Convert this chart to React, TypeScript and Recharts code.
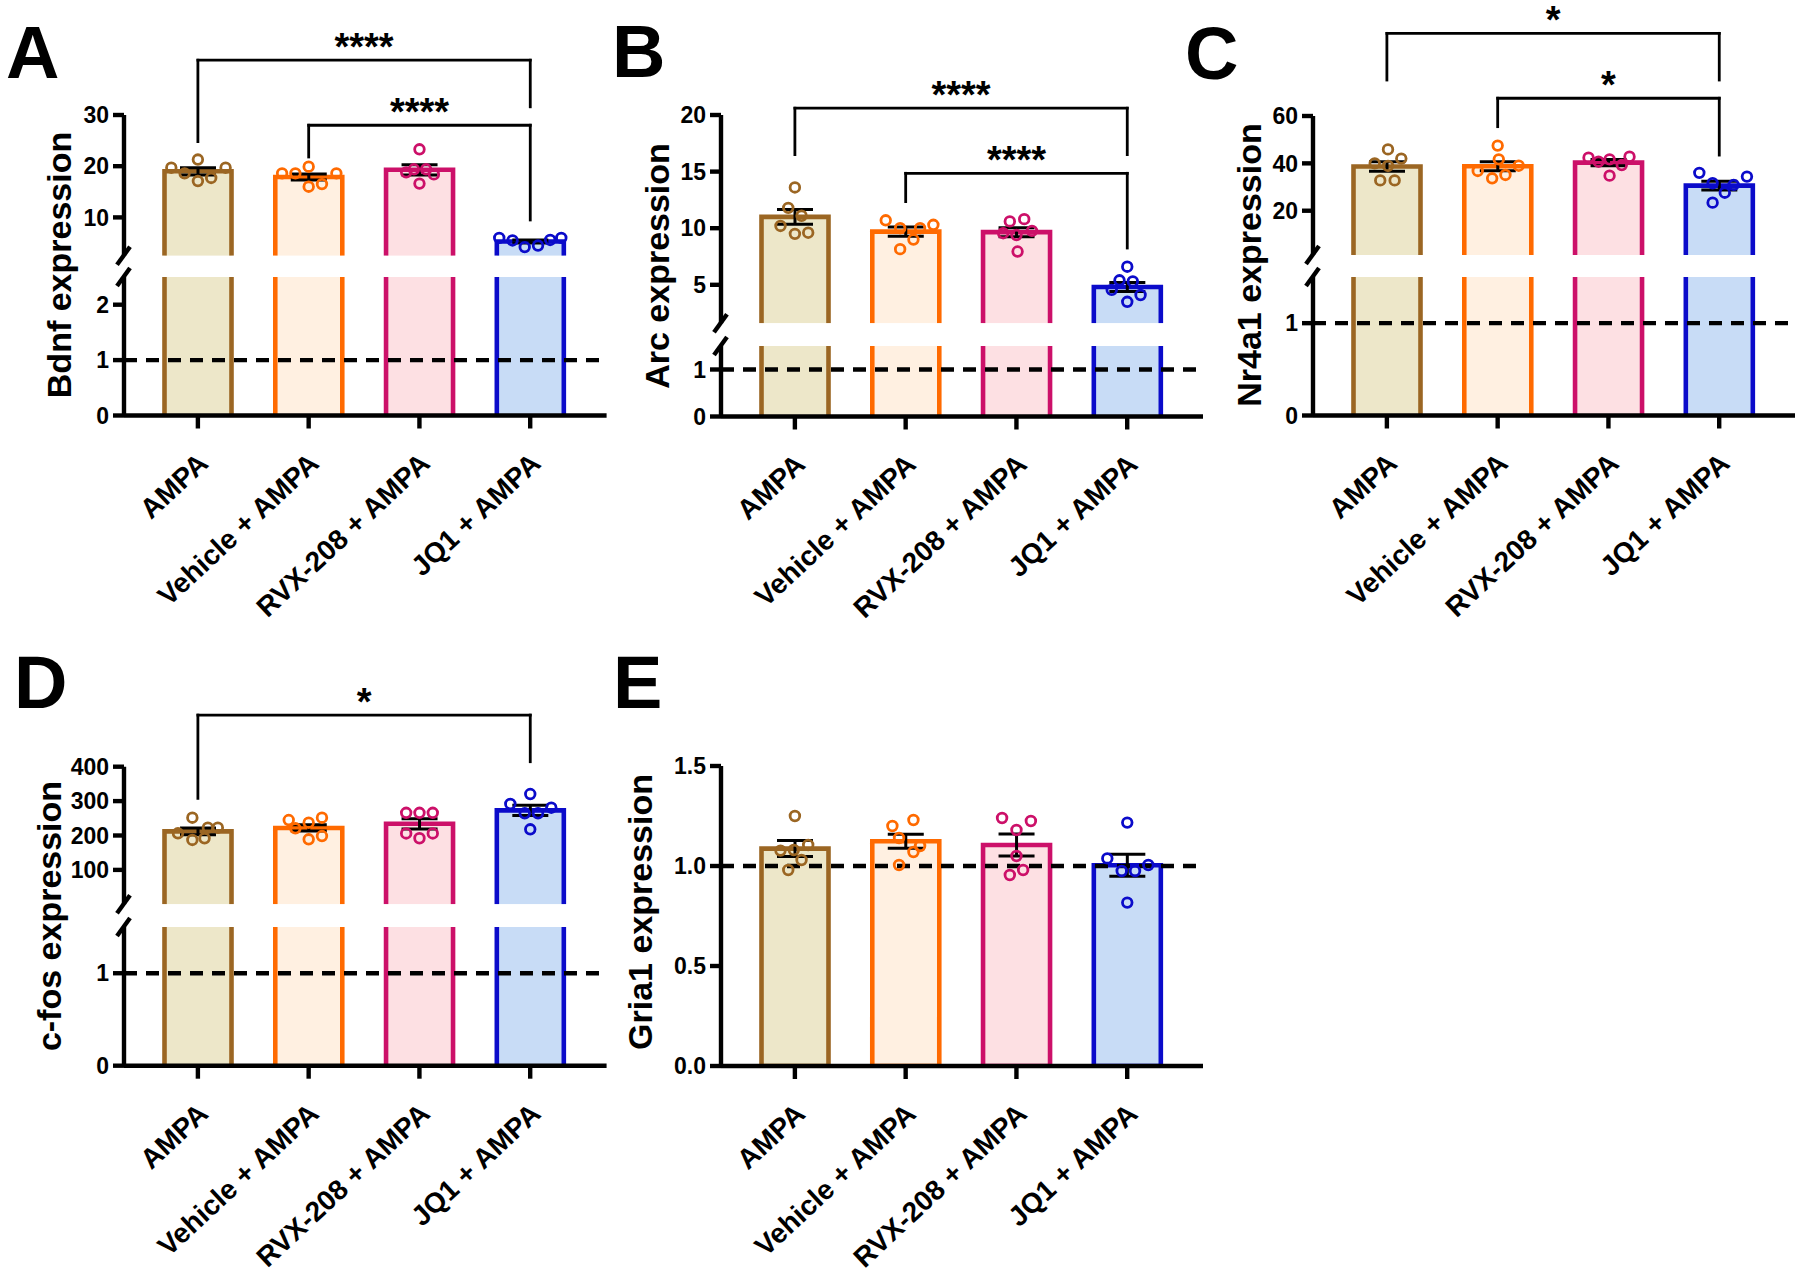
import React from 'react';
import { ComposedChart, Bar, Scatter, XAxis, YAxis, ErrorBar, ReferenceLine, Cell } from 'recharts';

const FONT = '"Liberation Sans", Arial, Helvetica, sans-serif';

const groups = ['AMPA', 'Vehicle + AMPA', 'RVX-208 + AMPA', 'JQ1 + AMPA'];
const strokes = ['#9b6623', '#ff6a00', '#cc1069', '#0b0bca'];
const fills = ['#ede7c9', '#fff0e1', '#fde0e3', '#c8dcf6'];

// A - Bdnf
const bdnfMean = [19.0, 17.9, 19.3, 5.3];
const bdnfSem = [0.7, 0.6, 1.0, 0.3];
const bdnfDots = [
  [19.7, 18.6, 21.3, 17.1, 17.7, 19.7],
  [18.6, 18.6, 19.9, 16.0, 16.5, 18.6],
  [18.8, 19.4, 23.3, 16.6, 19.4, 18.4],
  [6.0, 5.5, 4.2, 4.5, 5.6, 6.0],
];
const bdnfJitter = [
  [-0.24, -0.12, 0, 0, 0.12, 0.25],
  [-0.24, -0.12, 0, 0, 0.12, 0.25],
  [-0.12, -0.05, 0, 0, 0.06, 0.13],
  [-0.28, -0.16, -0.05, 0.07, 0.18, 0.28],
];
const bdnfBrackets = [
  { from: 0, to: 3, top: 40.7, left: 24.8, right: 31.6, text: '****' },
  { from: 1, to: 3, top: 28.0, left: 21.8, right: 9.5, text: '****' },
];

// B - Arc
const arcMean = [11.0, 9.7, 9.65, 4.8];
const arcSem = [0.65, 0.4, 0.4, 0.4];
const arcDots = [
  [13.6, 11.8, 11.1, 10.2, 9.5, 9.6],
  [10.7, 10.0, 8.15, 9.0, 10.0, 10.3],
  [10.6, 10.8, 9.56, 9.4, 9.76, 7.94],
  [6.6, 5.4, 5.3, 4.55, 4.1, 3.5],
];
const arcJitter = [
  [0, -0.06, 0.06, -0.13, 0, 0.12],
  [-0.18, -0.05, -0.05, 0.07, 0.13, 0.25],
  [-0.06, 0.07, -0.12, 0, 0.14, 0.01],
  [0, -0.07, 0.05, -0.14, 0.12, 0],
];
const arcBrackets = [
  { from: 0, to: 3, top: 20.6, left: 16.5, right: 16.5, text: '****' },
  { from: 1, to: 3, top: 14.85, left: 12.35, right: 8.25, text: '****' },
];

// C - Nr4a1
const nr4a1Mean = [38.7, 38.8, 40.3, 30.6];
const nr4a1Sem = [2.0, 1.9, 1.3, 1.8];
const nr4a1Dots = [
  [45.9, 40.0, 42.0, 38.9, 32.8, 32.8],
  [47.5, 41.7, 36.8, 33.7, 35.1, 39.0],
  [42.4, 40.7, 41.7, 39.3, 42.8, 34.8],
  [36.0, 31.6, 27.6, 30.9, 34.4, 23.4],
];
const nr4a1Jitter = [
  [0.01, -0.11, 0.13, 0.01, -0.06, 0.07],
  [0, 0.01, -0.18, -0.05, 0.07, 0.19],
  [-0.18, -0.09, 0.01, 0.12, 0.19, 0.01],
  [-0.18, -0.06, 0.05, 0.13, 0.25, -0.06],
];
const nr4a1Brackets = [
  { from: 0, to: 3, top: 94.9, left: 75.2, right: 75.2, text: '*' },
  { from: 1, to: 3, top: 67.5, left: 55.5, right: 43.5, text: '*' },
];

// D - c-fos
const cfosMean = [212, 222, 234, 273];
const cfosSem = [10, 9, 15, 15];
const cfosDots = [
  [251.7, 206.4, 222.7, 222.7, 187, 192],
  [245, 251.7, 237.2, 220.9, 189, 198.5],
  [266, 266, 266, 206, 192, 206],
  [320.6, 291.6, 280.8, 264.5, 264.5, 218],
];
const cfosJitter = [
  [-0.05, -0.18, 0.09, 0.18, -0.05, 0.06],
  [-0.18, 0.12, 0, -0.12, 0, 0.12],
  [-0.12, 0, 0.12, -0.12, 0, 0.12],
  [0, -0.18, 0.19, -0.05, 0.07, 0],
];
const cfosBrackets = [{ from: 0, to: 3, top: 550, left: 308, right: 414.5, text: '*' }];

// E - Gria1
const gria1Mean = [1.087, 1.124, 1.105, 1.004];
const gria1Sem = [0.04, 0.035, 0.055, 0.055];
const gria1Dots = [
  [1.25, 1.077, 1.08, 1.105, 1.03, 0.98],
  [1.2, 1.23, 1.14, 1.1, 1.07, 1.005],
  [1.24, 1.225, 1.18, 1.05, 0.98, 0.955],
  [1.217, 1.038, 0.975, 0.975, 1.005, 0.817],
];
const gria1Jitter = [
  [0, -0.13, -0.01, 0.12, 0.06, -0.06],
  [-0.12, 0.07, -0.06, 0.13, 0.07, -0.06],
  [-0.13, 0.13, 0, 0, 0.06, -0.06],
  [0, -0.18, -0.05, 0.07, 0.19, 0],
];

// layout
const PW = 482.6;
const YW = 110;
const XH = 230;
const BAR = 67;
const XDOM: [number, number] = [-0.667, 3.689];
const XPAD = { left: 18.5, right: 21 };
const AXIS = { stroke: '#000', strokeWidth: 4.4 };
const YTICK = { fontSize: 23, fontWeight: 700, fill: '#000', fontFamily: FONT };
const DASH = { stroke: '#000', strokeWidth: 4.4, strokeDasharray: '13 9' };

function OpenBar(p: any) {
  const i = groups.indexOf(p.payload?.name ?? p.name);
  const { x, y, width, height } = p;
  if (width == null || height == null) return null;
  return (
    <g>
      <rect x={x} y={y} width={width} height={height} fill={fills[i] ?? p.fill} />
      <path
        d={`M${x},${y + height} L${x},${y} L${x + width},${y} L${x + width},${y + height}`}
        fill="none"
        stroke={strokes[i] ?? p.stroke}
        strokeWidth={4.6}
      />
    </g>
  );
}

function CatTick(p: any) {
  const px = p.x + 12;
  const py = p.y + 37;
  return (
    <text
      x={px}
      y={py}
      transform={`rotate(-43 ${px} ${py})`}
      textAnchor="end"
      fontSize={28}
      fontWeight={700}
      fontFamily={FONT}
      fill="#000"
    >
      {p.payload.value}
    </text>
  );
}

function dotSeries(dots: number[][], jitter: number[][]) {
  return dots.map((vals, g) => (
    <Scatter
      key={`s${g}`}
      xAxisId="num"
      data={vals.map((y, k) => ({ x: g + jitter[g][k], y }))}
      dataKey="y"
      isAnimationActive={false}
      shape={(s: any) => (
        <circle cx={s.cx} cy={s.cy} r={4.8} fill="none" stroke={strokes[g]} strokeWidth={2.8} />
      )}
    />
  ));
}

function bracketLines(brackets: any[]) {
  const common = { xAxisId: 'num', ifOverflow: 'visible' as const, stroke: '#000', strokeWidth: 2.8, strokeLinecap: 'square' as const };
  return brackets.flatMap((b, k) => [
    <ReferenceLine
      key={`bh${k}`}
      {...common}
      segment={[{ x: b.from, y: b.top }, { x: b.to, y: b.top }]}
      label={{ value: b.text, position: 'top', offset: 0, fontSize: 38, fontWeight: 700, fill: '#000', fontFamily: FONT }}
    />,
    <ReferenceLine key={`bl${k}`} {...common} segment={[{ x: b.from, y: b.top }, { x: b.from, y: b.left }]} />,
    <ReferenceLine key={`br${k}`} {...common} segment={[{ x: b.to, y: b.top }, { x: b.to, y: b.right }]} />,
  ]);
}

function BrokenPanel(props: any) {
  const { axisX, rowTop, up, low, means, sems, dots, jitter, brackets } = props;
  const rows = groups.map((name, i) => ({ name, mean: means[i], sem: sems[i] }));
  const upH = up.bottom - up.top;
  const upTop = up.top - rowTop;
  const lowH = low.bottom - low.top;
  const xpp = (XDOM[1] - XDOM[0]) / PW;
  const upp = (up.domain[1] - up.domain[0]) / upH;
  const lpp = (low.domain[1] - low.domain[0]) / lowH;
  const slash = { xAxisId: 'num', ifOverflow: 'visible' as const, stroke: '#000', strokeWidth: 4.4 };
  return (
    <>
      <div style={{ position: 'absolute', left: axisX - YW, top: rowTop }}>
        <ComposedChart width={YW + PW} height={upTop + upH + 14} data={rows} margin={{ top: upTop, right: 0, bottom: 14, left: 0 }}>
          <XAxis dataKey="name" type="category" hide padding={XPAD} />
          <XAxis xAxisId="num" dataKey="x" type="number" domain={XDOM} allowDataOverflow hide />
          <YAxis
            width={YW}
            type="number"
            domain={up.domain}
            ticks={up.ticks}
            interval={0}
            allowDataOverflow
            tick={YTICK}
            tickSize={11}
            tickMargin={4}
            axisLine={AXIS}
            tickLine={AXIS}
          />
          <Bar dataKey="mean" barSize={BAR} isAnimationActive={false} shape={(p: any) => <OpenBar {...p} />}>
            {rows.map((r, i) => (
              <Cell key={r.name} fill={fills[i]} stroke={strokes[i]} />
            ))}
            <ErrorBar dataKey="sem" width={18} stroke="#000" strokeWidth={3} isAnimationActive={false} />
          </Bar>
          {dotSeries(dots, jitter)}
          {bracketLines(brackets)}
          <ReferenceLine
            {...slash}
            segment={[
              { x: XDOM[0] - 7 * xpp, y: up.domain[0] - 9 * upp },
              { x: XDOM[0] + 6 * xpp, y: up.domain[0] + 9 * upp },
            ]}
          />
        </ComposedChart>
      </div>
      <div style={{ position: 'absolute', left: axisX - YW, top: low.top - 16 }}>
        <ComposedChart width={YW + PW} height={16 + lowH + XH} data={rows} margin={{ top: 16, right: 0, bottom: 0, left: 0 }}>
          <XAxis
            dataKey="name"
            type="category"
            padding={XPAD}
            height={XH}
            interval={0}
            tick={(p: any) => <CatTick {...p} />}
            tickSize={13}
            tickMargin={0}
            axisLine={AXIS}
            tickLine={AXIS}
          />
          <XAxis xAxisId="num" dataKey="x" type="number" domain={XDOM} allowDataOverflow hide />
          <YAxis
            width={YW}
            type="number"
            domain={low.domain}
            ticks={low.ticks}
            interval={0}
            allowDataOverflow
            tick={YTICK}
            tickSize={11}
            tickMargin={4}
            axisLine={AXIS}
            tickLine={AXIS}
          />
          <Bar dataKey="mean" barSize={BAR} isAnimationActive={false} shape={(p: any) => <OpenBar {...p} />}>
            {rows.map((r, i) => (
              <Cell key={r.name} fill={fills[i]} stroke={strokes[i]} />
            ))}
          </Bar>
          <ReferenceLine xAxisId="num" y={1} {...DASH} />
          <ReferenceLine
            {...slash}
            segment={[
              { x: XDOM[0] - 7 * xpp, y: low.domain[1] - 9 * lpp },
              { x: XDOM[0] + 6 * xpp, y: low.domain[1] + 9 * lpp },
            ]}
          />
        </ComposedChart>
      </div>
    </>
  );
}

function GriaPanel() {
  const rows = groups.map((name, i) => ({ name, mean: gria1Mean[i], sem: gria1Sem[i] }));
  const top = 766;
  const bottom = 1066;
  const rowTop = 640;
  return (
    <div style={{ position: 'absolute', left: 720.5 - YW, top: rowTop }}>
      <ComposedChart width={YW + PW} height={top - rowTop + (bottom - top) + XH} data={rows} margin={{ top: top - rowTop, right: 0, bottom: 0, left: 0 }}>
        <XAxis
          dataKey="name"
          type="category"
          padding={XPAD}
          height={XH}
          interval={0}
          tick={(p: any) => <CatTick {...p} />}
          tickSize={13}
          tickMargin={0}
          axisLine={AXIS}
          tickLine={AXIS}
        />
        <XAxis xAxisId="num" dataKey="x" type="number" domain={XDOM} allowDataOverflow hide />
        <YAxis
          width={YW}
          type="number"
          domain={[0, 1.5]}
          ticks={[0, 0.5, 1, 1.5]}
          interval={0}
          allowDataOverflow
          tickFormatter={(v: number) => v.toFixed(1)}
          tick={YTICK}
          tickSize={11}
          tickMargin={4}
          axisLine={AXIS}
          tickLine={AXIS}
        />
        <Bar dataKey="mean" barSize={BAR} strokeWidth={4.6} isAnimationActive={false}>
          {rows.map((r, i) => (
            <Cell key={r.name} fill={fills[i]} stroke={strokes[i]} />
          ))}
          <ErrorBar dataKey="sem" width={18} stroke="#000" strokeWidth={3} isAnimationActive={false} />
        </Bar>
        <ReferenceLine xAxisId="num" y={1} {...DASH} />
        {dotSeries(gria1Dots, gria1Jitter)}
      </ComposedChart>
    </div>
  );
}

const letters = [
  { t: 'A', x: 6, y: 78 },
  { t: 'B', x: 612, y: 77 },
  { t: 'C', x: 1185, y: 79 },
  { t: 'D', x: 14, y: 708 },
  { t: 'E', x: 613, y: 708 },
];
const titles = [
  { t: 'Bdnf expression', x: 71, y: 265 },
  { t: 'Arc expression', x: 669, y: 266 },
  { t: 'Nr4a1 expression', x: 1261, y: 265 },
  { t: 'c-fos expression', x: 61, y: 916 },
  { t: 'Gria1 expression', x: 652, y: 912 },
];

export default function App() {
  return (
    <div style={{ position: 'absolute', left: 0, top: 0, width: 1800, height: 1275, background: '#fff', overflow: 'hidden', fontFamily: FONT }}>
      <BrokenPanel
        axisX={124.4}
        rowTop={0}
        up={{ top: 115, bottom: 255.8, domain: [2.5, 30], ticks: [10, 20, 30] }}
        low={{ top: 276.5, bottom: 415, domain: [0, 2.5], ticks: [0, 1, 2] }}
        means={bdnfMean}
        sems={bdnfSem}
        dots={bdnfDots}
        jitter={bdnfJitter}
        brackets={bdnfBrackets}
      />
      <BrokenPanel
        axisX={720.5}
        rowTop={0}
        up={{ top: 115, bottom: 323.3, domain: [1.6, 20], ticks: [5, 10, 15, 20] }}
        low={{ top: 345.5, bottom: 416, domain: [0, 1.5], ticks: [0, 1] }}
        means={arcMean}
        sems={arcSem}
        dots={arcDots}
        jitter={arcJitter}
        brackets={arcBrackets}
      />
      <BrokenPanel
        axisX={1312.9}
        rowTop={0}
        up={{ top: 116, bottom: 255, domain: [1.3, 60], ticks: [20, 40, 60] }}
        low={{ top: 276.5, bottom: 415, domain: [0, 1.5], ticks: [0, 1] }}
        means={nr4a1Mean}
        sems={nr4a1Sem}
        dots={nr4a1Dots}
        jitter={nr4a1Jitter}
        brackets={nr4a1Brackets}
      />
      <BrokenPanel
        axisX={124.4}
        rowTop={640}
        up={{ top: 766.7, bottom: 904.3, domain: [0, 400], ticks: [100, 200, 300, 400] }}
        low={{ top: 927.3, bottom: 1066, domain: [0, 1.5], ticks: [0, 1] }}
        means={cfosMean}
        sems={cfosSem}
        dots={cfosDots}
        jitter={cfosJitter}
        brackets={cfosBrackets}
      />
      <GriaPanel />
      <svg width={1800} height={1275} style={{ position: 'absolute', left: 0, top: 0, pointerEvents: 'none' }}>
        {letters.map((l) => (
          <text key={l.t} x={l.x} y={l.y} fontSize={74} fontWeight={700} fontFamily={FONT} fill="#000">
            {l.t}
          </text>
        ))}
        {titles.map((t) => (
          <text
            key={t.t}
            transform={`translate(${t.x} ${t.y}) rotate(-90)`}
            textAnchor="middle"
            fontSize={34}
            fontWeight={700}
            fontFamily={FONT}
            fill="#000"
          >
            {t.t}
          </text>
        ))}
      </svg>
    </div>
  );
}
